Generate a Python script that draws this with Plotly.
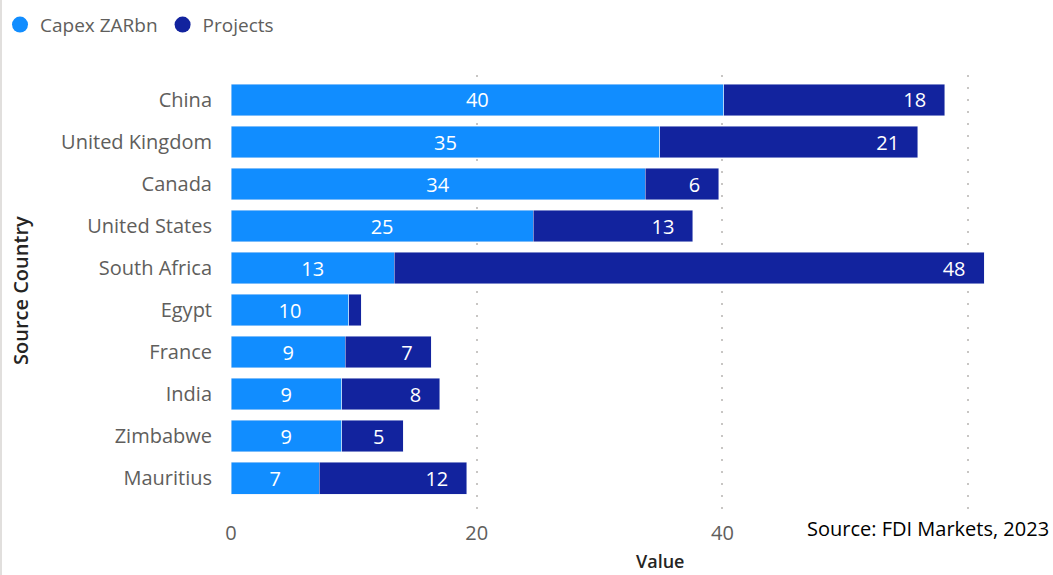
import plotly.graph_objects as go

countries = ["China", "United Kingdom", "Canada", "United States", "South Africa",
             "Egypt", "France", "India", "Zimbabwe", "Mauritius"]
capex = [40.1, 34.9, 33.7, 24.6, 13.3, 9.6, 9.3, 9.0, 9.0, 7.2]
projects = [18, 21, 6, 13, 48, 1, 7, 8, 5, 12]
x_ticks = [0, 20, 40, 60]
x_tick_labels = ["0", "20", "40", ""]  # "60" is hidden behind the source note in the original

C1 = "#118DFF"
C2 = "#12239E"
FONT = "Open Sans, Segoe UI, sans-serif"
NB = "\u00a0"

L, R, T, B = 231, 48, 75, 60
W, H = 1053, 575
PW, PH = W - L - R, H - T - B

proj_text = [f"{v}{NB*3}" if v >= 2 else "" for v in projects]
capex_text = [f"{v:.0f}" for v in capex]

fig = go.Figure()
fig.add_trace(go.Bar(
    y=countries, x=capex, orientation="h", marker_color=C1, name="Capex ZARbn",
    text=capex_text, textposition="inside", insidetextanchor="middle", textangle=0,
    constraintext="none",
    textfont=dict(color="white", size=20, family=FONT), showlegend=False,
    hoverinfo="x+y"))
fig.add_trace(go.Bar(
    y=countries, x=projects, orientation="h", marker_color=C2, name="Projects",
    text=proj_text, textposition="inside", insidetextanchor="end", textangle=0,
    constraintext="none",
    textfont=dict(color="white", size=20, family=FONT), showlegend=False,
    hoverinfo="x+y"))
# legend entries with circle markers
for nm, col in [("Capex ZARbn", C1), ("Projects", C2)]:
    fig.add_trace(go.Scatter(x=[None], y=[None], mode="markers", name=nm,
                             marker=dict(color=col, size=20, symbol="circle")))

fig.update_layout(
    width=W, height=H, barmode="stack", bargap=0.24,
    margin=dict(l=L, r=R, t=T, b=B),
    plot_bgcolor="white", paper_bgcolor="white",
    font=dict(family=FONT, color="#605E5C"),
    legend=dict(orientation="h", x=-0.004, xref="container", y=0.99, yref="container",
                yanchor="top", xanchor="left", font=dict(size=19, color="#605E5C"),
                itemsizing="trace", itemwidth=30, traceorder="normal",
                bgcolor="rgba(0,0,0,0)"),
    xaxis=dict(range=[0, 63], tickvals=x_ticks, ticktext=x_tick_labels,
               showgrid=True, gridcolor="#C8C6C4", griddash="2px,10px", gridwidth=1.5,
               zeroline=False, showline=False, ticklabelstandoff=4,
               tickfont=dict(size=20, color="#605E5C")),
    yaxis=dict(type="category", categoryorder="array", categoryarray=countries,
               range=[9.88, -0.595], showgrid=False, zeroline=False, showline=False,
               ticks="", ticklabelstandoff=18, tickfont=dict(size=20, color="#605E5C")),
    annotations=[
        dict(text="Source Country", textangle=-90, x=(20 - L) / PW, y=(T + PH - 290) / PH,
             xref="paper", yref="paper", showarrow=False, xanchor="center", yanchor="middle",
             font=dict(size=20, color="#252423", family=FONT, weight=600)),
        dict(text="Value", x=(660 - L) / PW, y=(T + PH - 561) / PH, xref="paper", yref="paper",
             showarrow=False, xanchor="center", yanchor="middle",
             font=dict(size=18, color="#252423", family=FONT, weight=600)),
        dict(text="Source: FDI Markets, 2023", x=(1051 - L) / PW, y=(T + PH - 528) / PH,
             xref="paper", yref="paper", xanchor="right", yanchor="middle", showarrow=False,
             bgcolor="white", font=dict(size=20, color="#000000", family=FONT)),
    ],
    shapes=[dict(type="line", xref="paper", yref="paper", x0=(1 - L) / PW, x1=(1 - L) / PW,
                 y0=-B / PH, y1=(PH + T) / PH, line=dict(color="#E1DFDD", width=2))],
)

fig.write_html("out.html", config={"displayModeBar": False},
               post_script="document.body.style.margin='0';document.body.style.overflow='hidden';")
